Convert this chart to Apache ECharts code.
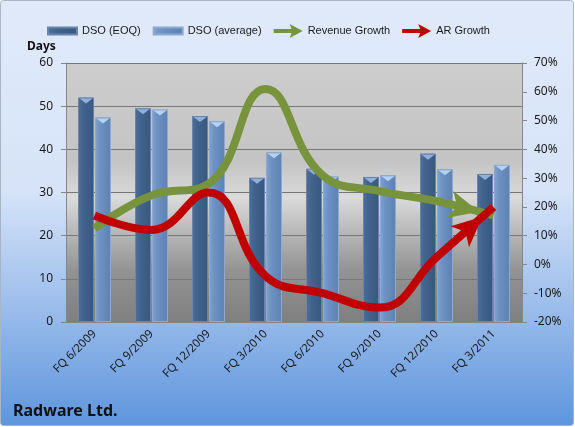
<!DOCTYPE html>
<html>
<head>
<meta charset="utf-8">
<script src="https://cdn.jsdelivr.net/npm/echarts@6/dist/echarts.min.js"></script>
</head>
<body style="margin:0">
<div id="container" style="width:575px;height:427px"></div>
<script>
// values
var categories = ['FQ 6/2009', 'FQ 9/2009', 'FQ 12/2009', 'FQ 3/2010', 'FQ 6/2010', 'FQ 9/2010', 'FQ 12/2010', 'FQ 3/2011'];
var dsoEoq = [52, 49.5, 47.7, 33.4, 35.5, 33.6, 39, 34.3];
var dsoAvg = [47.4, 49.2, 46.5, 39.3, 33.7, 34, 35.4, 36.4];
var revenueGrowth = [12.5, 24, 28, 61, 31, 25.5, 22, 17];
var arGrowth = [17, 12, 25, -4, -10, -15, 2.5, 20];

var FONT = 'Noto Sans';
var LG = echarts.graphic.LinearGradient;
var barPath = 'path://M0,0 L29,0 L29,7 L0,7 Z';
var arrowPath = 'path://M0,5 L18,5 L16,0 L29,7 L16,14 L18,9 L0,9 Z';
var ARROW = [21, 30];

var chart = echarts.init(document.getElementById('container'));

// last point gets an arrow head, rotated later
function lineData(vals) {
  return vals.map(function (v, i) {
    if (i === vals.length - 1) {
      return { value: v, symbol: 'arrow', symbolSize: ARROW };
    }
    return v;
  });
}

// light chevron on top of each bar
function cap(name, vals, color) {
  return {
    name: name, type: 'pictorialBar', data: vals, silent: true, z: 3,
    barWidth: 16, barGap: '6%',
    symbol: 'triangle', symbolRotate: 180, symbolSize: [13, 5],
    symbolPosition: 'end', symbolOffset: [0, 1],
    itemStyle: { color: color }
  };
}

var option = {
  animation: false,
  graphic: [{
    type: 'rect', z: -10, silent: true,
    shape: { x: 0.5, y: 0.5, width: 573, height: 425, r: 3 },
    style: {
      fill: new LG(0, 0, 0, 1, [
        { offset: 0, color: '#e0eafa' },
        { offset: 0.45, color: '#d6e3f8' },
        { offset: 1, color: '#5e95dd' }
      ]),
      stroke: '#a9b4c4', lineWidth: 1
    }
  }, {
    type: 'text', left: 27, top: 41,
    style: { text: 'Days', font: 'bold 12px ' + FONT, fill: '#111' }
  }],
  title: {
    text: 'Radware Ltd.',
    left: 8, top: 398,
    textStyle: { fontFamily: FONT, fontWeight: 'bold', fontSize: 16, color: '#111' }
  },
  legend: {
    left: 42, top: 19,
    itemWidth: 29, itemHeight: 14, itemGap: 12,
    textStyle: { fontFamily: 'Liberation Sans', fontSize: 11, color: '#1a1a1a' },
    data: [
      { name: 'DSO (EOQ)', icon: barPath },
      { name: 'DSO (average)', icon: barPath },
      { name: 'Revenue Growth', icon: arrowPath },
      { name: 'AR Growth', icon: arrowPath }
    ]
  },
  grid: {
    left: 66, right: 53, top: 63, bottom: 105,
    show: true, borderWidth: 0,
    backgroundColor: new LG(0, 0, 0, 1, [
      { offset: 0, color: '#cdcdcd' },
      { offset: 0.38, color: '#c4c4c4' },
      { offset: 0.52, color: '#dadada' },
      { offset: 0.8, color: '#939393' },
      { offset: 1, color: '#7f7f7f' }
    ])
  },
  xAxis: {
    type: 'category',
    data: categories,
    axisLine: { lineStyle: { color: '#868686' } },
    axisTick: { lineStyle: { color: '#868686' }, length: 5 },
    axisLabel: { rotate: 45, fontFamily: FONT, fontSize: 11.5, color: '#1a1a1a', margin: 10 }
  },
  yAxis: [{
    type: 'value', min: 0, max: 60, interval: 10,
    axisLine: { show: true, lineStyle: { color: '#868686' } },
    axisTick: { show: true, lineStyle: { color: '#868686' } },
    splitLine: { lineStyle: { color: '#777' } },
    axisLabel: { fontFamily: FONT, fontSize: 12, color: '#1a1a1a', margin: 13 }
  }, {
    type: 'value', min: -20, max: 70, interval: 10,
    axisLine: { show: true, lineStyle: { color: '#868686' } },
    axisTick: { show: true, lineStyle: { color: '#868686' } },
    splitLine: { show: false },
    axisLabel: { formatter: '{value}%', fontFamily: FONT, fontSize: 12, color: '#1a1a1a', margin: 12 }
  }],
  series: [{
    name: 'DSO (EOQ)', type: 'bar', data: dsoEoq,
    barWidth: 16, barGap: '6%',
    itemStyle: {
      color: new LG(0, 0, 1, 0, [
        { offset: 0, color: '#4f6f98' },
        { offset: 0.3, color: '#43648f' },
        { offset: 1, color: '#37577f' }
      ]),
      borderColor: '#6a86aa', borderWidth: 1
    }
  }, {
    name: 'DSO (average)', type: 'bar', data: dsoAvg,
    barWidth: 16,
    itemStyle: {
      color: new LG(0, 0, 1, 0, [
        { offset: 0, color: '#82a3d0' },
        { offset: 0.3, color: '#6f92c4' },
        { offset: 1, color: '#5c80b2' }
      ]),
      borderColor: '#8ea9cc', borderWidth: 1
    }
  },
  cap('capEoq', dsoEoq, '#8fb0d8'),
  cap('capAvg', dsoAvg, '#b4d2f2'),
  {
    name: 'Revenue Growth', type: 'line', yAxisIndex: 1, z: 4,
    data: lineData(revenueGrowth),
    smooth: 0.45, showSymbol: true, symbol: 'none',
    color: '#77933c',
    lineStyle: { width: 8, color: '#77933c', cap: 'butt' },
    itemStyle: { color: '#77933c' }
  }, {
    name: 'AR Growth', type: 'line', yAxisIndex: 1, z: 4,
    data: lineData(arGrowth),
    smooth: 0.45, showSymbol: true, symbol: 'none',
    color: '#c00000',
    lineStyle: { width: 8, color: '#c00000', cap: 'butt' },
    itemStyle: { color: '#c00000' }
  }]
};

chart.setOption(option);

// point the arrow heads along the last segment, tip on the last point
function arrowHead(vals) {
  var n = vals.length;
  var a = chart.convertToPixel({ xAxisIndex: 0, yAxisIndex: 1 }, [n - 2, vals[n - 2]]);
  var b = chart.convertToPixel({ xAxisIndex: 0, yAxisIndex: 1 }, [n - 1, vals[n - 1]]);
  var dx = b[0] - a[0], dy = b[1] - a[1];
  var len = Math.sqrt(dx * dx + dy * dy);
  var ang = Math.atan2(-dy, dx) * 180 / Math.PI;
  var d = lineData(vals);
  d[n - 1].symbolRotate = ang - 90;
  d[n - 1].symbolOffset = [-ARROW[1] / 2 * dx / len, -ARROW[1] / 2 * dy / len];
  return d;
}

chart.setOption({
  series: [{}, {}, {}, {}, { data: arrowHead(revenueGrowth) }, { data: arrowHead(arGrowth) }]
});
</script>
</body>
</html>
